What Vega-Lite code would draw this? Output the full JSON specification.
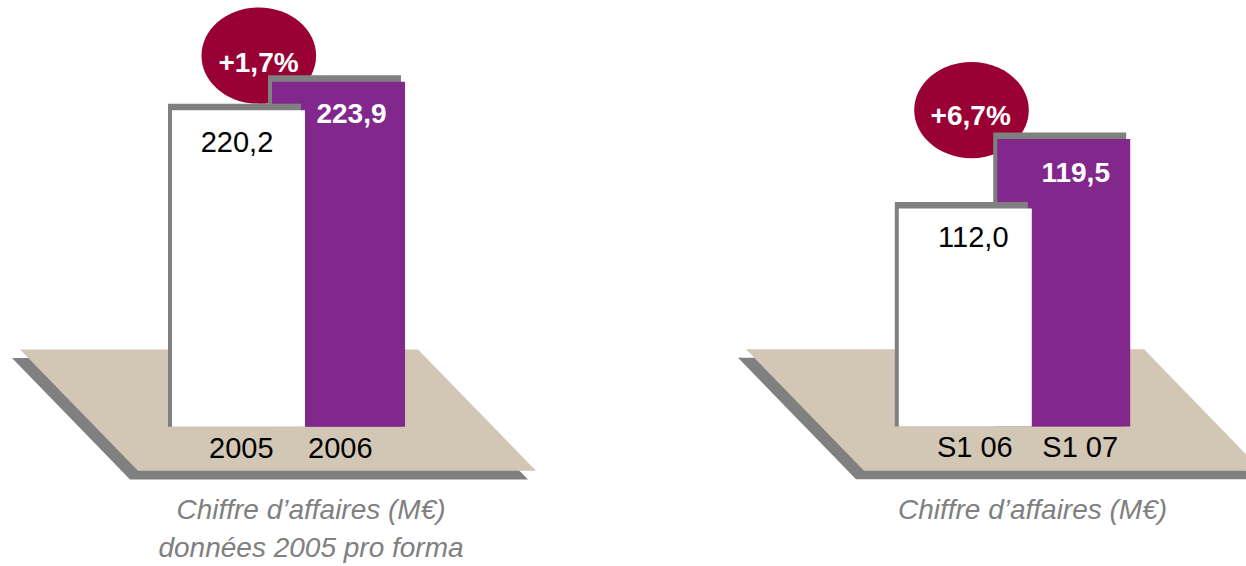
{
  "$schema": "https://vega.github.io/schema/vega-lite/v6.json",
  "padding": 0,
  "background": "white",
  "spacing": 0,
  "bounds": "flush",
  "config": {"view": {"stroke": null}},
  "datasets": {
    "left": [
      {"cat": "2005", "value": 220.2, "label": "220,2", "kind": "prev", "growth": ""},
      {"cat": "2006", "value": 223.9, "label": "223,9", "kind": "cur", "growth": "+1,7%"}
    ],
    "right": [
      {"cat": "S1 06", "value": 112.0, "label": "112,0", "kind": "prev", "growth": ""},
      {"cat": "S1 07", "value": 119.5, "label": "119,5", "kind": "cur", "growth": "+6,7%"}
    ]
  },
  "hconcat": [
    {
      "width": 623,
      "height": 566,
      "data": {"name": "left"},
      "encoding": {
        "x": {"field": "cat", "type": "nominal", "axis": null,
              "scale": {"type": "point", "domain": ["2005", "2006"], "padding": 0, "range": [238.5, 338.5]}}
      },
      "layer": [
        {
          "transform": [{"filter": "datum.kind == 'prev'"}],
          "mark": {"type": "point", "shape": "M-2.58,-0.607L1.4,-0.607L2.58,0.607L-1.4,0.607Z", "size": 40000, "filled": true, "color": "#808080", "opacity": 1, "strokeWidth": 0, "xOffset": 31.5, "yOffset": -8},
          "encoding": {"y": {"datum": 178.8, "type": "quantitative", "axis": null, "scale": {"domain": [160.6, 234.6], "zero": false, "nice": false}}}
        },
        {
          "transform": [{"filter": "datum.kind == 'prev'"}],
          "mark": {"type": "point", "shape": "M-2.58,-0.607L1.4,-0.607L2.58,0.607L-1.4,0.607Z", "size": 40000, "filled": true, "color": "#D2C6B4", "opacity": 1, "strokeWidth": 0, "xOffset": 39.5, "yOffset": -16.7},
          "encoding": {"y": {"datum": 178.8, "type": "quantitative", "axis": null, "scale": {"domain": [160.6, 234.6], "zero": false, "nice": false}}}
        },
        {
          "transform": [{"filter": "datum.kind == 'cur'"}],
          "mark": {"type": "point", "shape": "M-1,0A1,0.84 0 1,1 1,0A1,0.84 0 1,1 -1,0Z", "size": 13133, "filled": true, "color": "#990033", "opacity": 1, "strokeWidth": 0, "xOffset": -79.7, "yOffset": -26.2},
          "encoding": {"y": {"field": "value", "type": "quantitative", "axis": null, "scale": {"domain": [160.6, 234.6], "zero": false, "nice": false}}}
        },
        {
          "transform": [{"filter": "datum.kind == 'cur'"}],
          "mark": {"type": "text", "font": "Liberation Sans, Arial, sans-serif", "fontWeight": "bold", "fontSize": 28, "color": "white", "align": "center", "baseline": "alphabetic", "dx": -80, "dy": -10},
          "encoding": {"y": {"field": "value", "type": "quantitative", "axis": null, "scale": {"domain": [160.6, 234.6], "zero": false, "nice": false}}, "text": {"field": "growth"}}
        },
        {
          "transform": [{"filter": "datum.kind == 'cur'"}],
          "mark": {"type": "bar", "width": 133, "color": "#808080", "xOffset": -4, "yOffset": -6.5},
          "encoding": {"y": {"field": "value", "type": "quantitative", "axis": null, "scale": {"domain": [160.6, 234.6], "zero": false, "nice": false}}, "y2": {"datum": 178.8}}
        },
        {
          "transform": [{"filter": "datum.kind == 'cur'"}],
          "mark": {"type": "bar", "width": 133, "color": "#82288C"},
          "encoding": {"y": {"field": "value", "type": "quantitative", "axis": null, "scale": {"domain": [160.6, 234.6], "zero": false, "nice": false}}, "y2": {"datum": 178.8}}
        },
        {
          "transform": [{"filter": "datum.kind == 'prev'"}],
          "mark": {"type": "bar", "width": 133, "color": "#808080", "xOffset": -4, "yOffset": -6.5},
          "encoding": {"y": {"field": "value", "type": "quantitative", "axis": null, "scale": {"domain": [160.6, 234.6], "zero": false, "nice": false}}, "y2": {"datum": 178.8}}
        },
        {
          "transform": [{"filter": "datum.kind == 'prev'"}],
          "mark": {"type": "bar", "width": 133, "color": "#FFFFFF"},
          "encoding": {"y": {"field": "value", "type": "quantitative", "axis": null, "scale": {"domain": [160.6, 234.6], "zero": false, "nice": false}}, "y2": {"datum": 178.8}}
        },
        {
          "transform": [{"filter": "datum.kind == 'prev'"}],
          "mark": {"type": "text", "font": "Liberation Sans, Arial, sans-serif", "fontSize": 29, "color": "black", "align": "center", "baseline": "alphabetic", "dx": -1.5, "dy": 42},
          "encoding": {"y": {"field": "value", "type": "quantitative", "axis": null, "scale": {"domain": [160.6, 234.6], "zero": false, "nice": false}}, "text": {"field": "label"}}
        },
        {
          "transform": [{"filter": "datum.kind == 'cur'"}],
          "mark": {"type": "text", "font": "Liberation Sans, Arial, sans-serif", "fontWeight": "bold", "fontSize": 28, "color": "white", "align": "center", "baseline": "alphabetic", "dx": 13, "dy": 41.3},
          "encoding": {"y": {"field": "value", "type": "quantitative", "axis": null, "scale": {"domain": [160.6, 234.6], "zero": false, "nice": false}}, "text": {"field": "label"}}
        },
        {
          "transform": [{"filter": "datum.kind == 'prev'"}],
          "mark": {"type": "text", "font": "Liberation Sans, Arial, sans-serif", "fontSize": 29, "color": "black", "align": "center", "baseline": "alphabetic", "dx": 2.8, "dy": 31},
          "encoding": {"y": {"datum": 178.8, "type": "quantitative", "axis": null, "scale": {"domain": [160.6, 234.6], "zero": false, "nice": false}}, "text": {"field": "cat"}}
        },
        {
          "transform": [{"filter": "datum.kind == 'cur'"}],
          "mark": {"type": "text", "font": "Liberation Sans, Arial, sans-serif", "fontSize": 29, "color": "black", "align": "center", "baseline": "alphabetic", "dx": 1.8, "dy": 31},
          "encoding": {"y": {"datum": 178.8, "type": "quantitative", "axis": null, "scale": {"domain": [160.6, 234.6], "zero": false, "nice": false}}, "text": {"field": "cat"}}
        },
        {
          "transform": [{"filter": "datum.kind == 'prev'"}],
          "mark": {"type": "text", "text": ["Chiffre d’affaires (M€)", "données 2005 pro forma"], "font": "Liberation Sans, Arial, sans-serif", "fontStyle": "italic", "fontSize": 28, "lineHeight": 38, "color": "#808080", "align": "center", "baseline": "alphabetic", "dx": 72.5, "dy": 92.3},
          "encoding": {"y": {"datum": 178.8, "type": "quantitative", "axis": null, "scale": {"domain": [160.6, 234.6], "zero": false, "nice": false}}}
        }
      ]
    },
    {
      "width": 623,
      "height": 566,
      "data": {"name": "right"},
      "encoding": {
        "x": {"field": "cat", "type": "nominal", "axis": null,
              "scale": {"type": "point", "domain": ["S1 06", "S1 07"], "padding": 0, "range": [342.3, 440.7]}}
      },
      "layer": [
        {
          "transform": [{"filter": "datum.kind == 'prev'"}],
          "mark": {"type": "point", "clip": true, "shape": "M-2.58,-0.607L1.4,-0.607L2.58,0.607L-1.4,0.607Z", "size": 40000, "filled": true, "color": "#808080", "opacity": 1, "strokeWidth": 0, "xOffset": 30.7, "yOffset": -8},
          "encoding": {"y": {"datum": 88.4, "type": "quantitative", "axis": null, "scale": {"domain": [73.3, 134.55], "zero": false, "nice": false}}}
        },
        {
          "transform": [{"filter": "datum.kind == 'prev'"}],
          "mark": {"type": "point", "clip": true, "shape": "M-2.58,-0.607L1.4,-0.607L2.58,0.607L-1.4,0.607Z", "size": 40000, "filled": true, "color": "#D2C6B4", "opacity": 1, "strokeWidth": 0, "xOffset": 38.7, "yOffset": -16.5},
          "encoding": {"y": {"datum": 88.4, "type": "quantitative", "axis": null, "scale": {"domain": [73.3, 134.55], "zero": false, "nice": false}}}
        },
        {
          "transform": [{"filter": "datum.kind == 'cur'"}],
          "mark": {"type": "point", "shape": "M-1,0A1,0.84 0 1,1 1,0A1,0.84 0 1,1 -1,0Z", "size": 13133, "filled": true, "color": "#990033", "opacity": 1, "strokeWidth": 0, "xOffset": -92.2, "yOffset": -29},
          "encoding": {"y": {"field": "value", "type": "quantitative", "axis": null, "scale": {"domain": [73.3, 134.55], "zero": false, "nice": false}}}
        },
        {
          "transform": [{"filter": "datum.kind == 'cur'"}],
          "mark": {"type": "text", "font": "Liberation Sans, Arial, sans-serif", "fontWeight": "bold", "fontSize": 28, "color": "white", "align": "center", "baseline": "alphabetic", "dx": -93, "dy": -14},
          "encoding": {"y": {"field": "value", "type": "quantitative", "axis": null, "scale": {"domain": [73.3, 134.55], "zero": false, "nice": false}}, "text": {"field": "growth"}}
        },
        {
          "transform": [{"filter": "datum.kind == 'cur'"}],
          "mark": {"type": "bar", "width": 133, "color": "#808080", "xOffset": -4, "yOffset": -6.5},
          "encoding": {"y": {"field": "value", "type": "quantitative", "axis": null, "scale": {"domain": [73.3, 134.55], "zero": false, "nice": false}}, "y2": {"datum": 88.4}}
        },
        {
          "transform": [{"filter": "datum.kind == 'cur'"}],
          "mark": {"type": "bar", "width": 133, "color": "#82288C"},
          "encoding": {"y": {"field": "value", "type": "quantitative", "axis": null, "scale": {"domain": [73.3, 134.55], "zero": false, "nice": false}}, "y2": {"datum": 88.4}}
        },
        {
          "transform": [{"filter": "datum.kind == 'prev'"}],
          "mark": {"type": "bar", "width": 133, "color": "#808080", "xOffset": -4, "yOffset": -6.5},
          "encoding": {"y": {"field": "value", "type": "quantitative", "axis": null, "scale": {"domain": [73.3, 134.55], "zero": false, "nice": false}}, "y2": {"datum": 88.4}}
        },
        {
          "transform": [{"filter": "datum.kind == 'prev'"}],
          "mark": {"type": "bar", "width": 133, "color": "#FFFFFF"},
          "encoding": {"y": {"field": "value", "type": "quantitative", "axis": null, "scale": {"domain": [73.3, 134.55], "zero": false, "nice": false}}, "y2": {"datum": 88.4}}
        },
        {
          "transform": [{"filter": "datum.kind == 'prev'"}],
          "mark": {"type": "text", "font": "Liberation Sans, Arial, sans-serif", "fontSize": 29, "color": "black", "align": "center", "baseline": "alphabetic", "dx": 8, "dy": 38.5},
          "encoding": {"y": {"field": "value", "type": "quantitative", "axis": null, "scale": {"domain": [73.3, 134.55], "zero": false, "nice": false}}, "text": {"field": "label"}}
        },
        {
          "transform": [{"filter": "datum.kind == 'cur'"}],
          "mark": {"type": "text", "font": "Liberation Sans, Arial, sans-serif", "fontWeight": "bold", "fontSize": 28, "color": "white", "align": "center", "baseline": "alphabetic", "dx": 12, "dy": 42.7},
          "encoding": {"y": {"field": "value", "type": "quantitative", "axis": null, "scale": {"domain": [73.3, 134.55], "zero": false, "nice": false}}, "text": {"field": "label"}}
        },
        {
          "transform": [{"filter": "datum.kind == 'prev'"}],
          "mark": {"type": "text", "font": "Liberation Sans, Arial, sans-serif", "fontSize": 29, "color": "black", "align": "center", "baseline": "alphabetic", "dx": 9.5, "dy": 31},
          "encoding": {"y": {"datum": 88.4, "type": "quantitative", "axis": null, "scale": {"domain": [73.3, 134.55], "zero": false, "nice": false}}, "text": {"field": "cat"}}
        },
        {
          "transform": [{"filter": "datum.kind == 'cur'"}],
          "mark": {"type": "text", "font": "Liberation Sans, Arial, sans-serif", "fontSize": 29, "color": "black", "align": "center", "baseline": "alphabetic", "dx": 16.5, "dy": 31},
          "encoding": {"y": {"datum": 88.4, "type": "quantitative", "axis": null, "scale": {"domain": [73.3, 134.55], "zero": false, "nice": false}}, "text": {"field": "cat"}}
        },
        {
          "transform": [{"filter": "datum.kind == 'prev'"}],
          "mark": {"type": "text", "text": "Chiffre d’affaires (M€)", "font": "Liberation Sans, Arial, sans-serif", "fontStyle": "italic", "fontSize": 28, "color": "#808080", "align": "center", "baseline": "alphabetic", "dx": 67.2, "dy": 92.3},
          "encoding": {"y": {"datum": 88.4, "type": "quantitative", "axis": null, "scale": {"domain": [73.3, 134.55], "zero": false, "nice": false}}}
        }
      ]
    }
  ]
}
